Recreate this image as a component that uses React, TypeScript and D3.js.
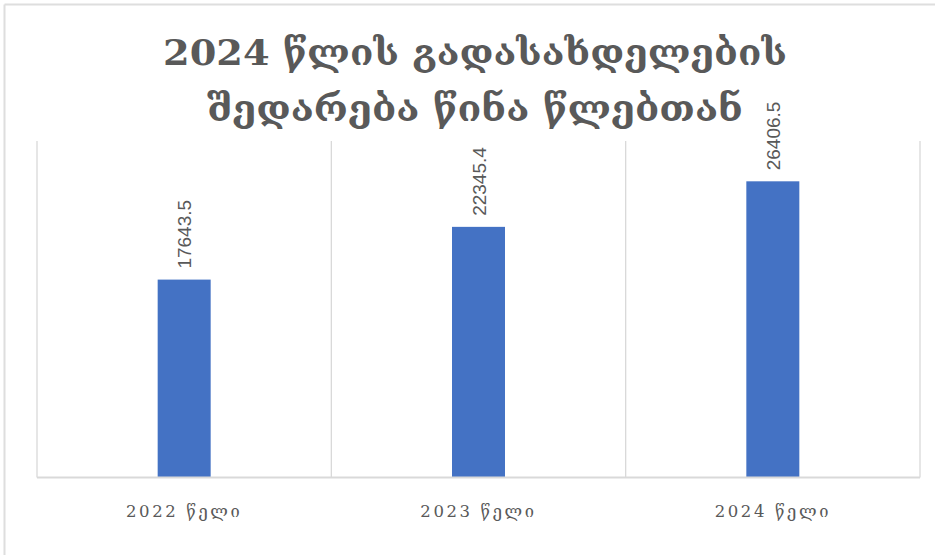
import React from "react";
import * as d3 from "d3";

const categories = ["2022 წელი", "2023 წელი", "2024 წელი"];
const values = [17643.5, 22345.4, 26406.5];
const valueLabels = ["17643.5", "22345.4", "26406.5"];
const titleLines = ["2024 წლის გადასახდელების", "შედარება წინა წლებთან"];

const W = 935;
const H = 555;
const plot = { left: 37, right: 920, top: 141, bottom: 477.5 };

export default function App() {
  const x = d3
    .scaleBand<string>()
    .domain(categories)
    .range([plot.left, plot.right])
    .paddingInner(0)
    .paddingOuter(0);
  const y = d3.scaleLinear().domain([0, 30000]).range([plot.bottom, plot.top]);
  const barW = 53;
  const gridXs = [plot.left, ...categories.map((c) => (x(c) as number) + x.bandwidth())];
  const textColor = "#595959";
  const titleSpans = [
    { x: 163, w: 624, y: 65 },
    { x: 207, w: 536, y: 121 },
  ];
  return (
    <div style={{ position: "absolute", left: 0, top: 0 }}>
      <svg width={W} height={H} style={{ display: "block", background: "#fff" }}>
        <line x1={4.5} y1={4.5} x2={W} y2={4.5} stroke="#dedede" strokeWidth={2} />
        <line x1={4.5} y1={4.5} x2={4.5} y2={H} stroke="#dedede" strokeWidth={2} />
        {titleLines.map((t, i) => (
          <text
            key={i}
            x={titleSpans[i].x}
            y={titleSpans[i].y}
            textLength={titleSpans[i].w}
            lengthAdjust="spacingAndGlyphs"
            fontFamily="'DejaVu Serif', serif"
            fontWeight="bold"
            fontSize={36}
            fill={textColor}
          >
            {t}
          </text>
        ))}
        {gridXs.map((gx, i) => (
          <line key={i} x1={gx} x2={gx} y1={plot.top} y2={plot.bottom} stroke="#d9d9d9" strokeWidth={1.3} />
        ))}
        {categories.map((c, i) => {
          const cx = (x(c) as number) + x.bandwidth() / 2;
          const top = y(values[i]);
          return (
            <g key={c}>
              <rect x={cx - barW / 2} y={top} width={barW} height={plot.bottom - top} fill="#4472c4" />
              <text
                transform={`translate(${cx + 7},${top - 11}) rotate(-90)`}
                fontFamily="'Liberation Sans', 'DejaVu Sans', sans-serif"
                fontSize={19}
                fill={textColor}
              >
                {valueLabels[i]}
              </text>
              <text
                x={cx}
                y={517}
                textAnchor="middle"
                fontFamily="'DejaVu Serif', serif"
                fontSize={16.5}
                letterSpacing={2.6}
                fill={textColor}
              >
                {c}
              </text>
            </g>
          );
        })}
        <line x1={plot.left} x2={plot.right} y1={plot.bottom} y2={plot.bottom} stroke="#d9d9d9" strokeWidth={2} />
      </svg>
    </div>
  );
}
